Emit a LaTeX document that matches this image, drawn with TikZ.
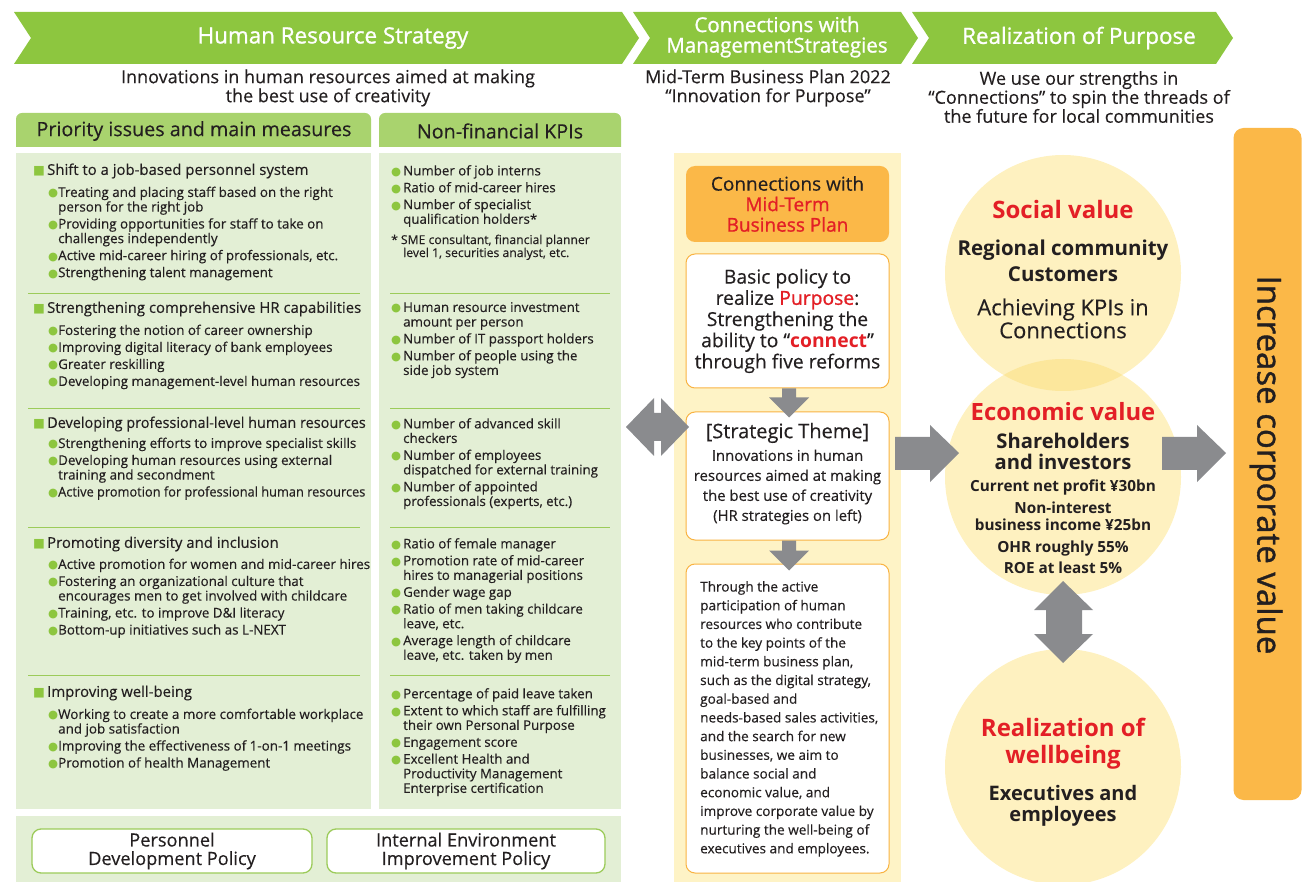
\documentclass[tikz,border=0pt]{standalone}
\usepackage{fontspec}
\setmainfont[UprightFeatures={FakeBold=0.3}]{Open Sans}
\newfontfamily\medfont[UprightFeatures={FakeBold=1.1}]{Open Sans}
\newfontfamily\symfont{DejaVu Sans}
\usetikzlibrary{calc}
\definecolor{bgreen}{HTML}{8DC63F}
\definecolor{tgreen}{HTML}{A9D36E}
\definecolor{pgreen}{HTML}{E3EFD5}
\definecolor{lgreen}{HTML}{9CCB5A}
\definecolor{ink}{HTML}{231F20}
\definecolor{agray}{HTML}{8A8B8E}
\definecolor{cbg}{HTML}{FEF3C6}
\definecolor{orng}{HTML}{FBB848}
\definecolor{oborder}{HTML}{F9B342}
\definecolor{rred}{HTML}{E31F26}
\definecolor{circ}{HTML}{FEF1C0}
\definecolor{circov}{HTML}{FCE79C}
\newcommand{\bul}{\makebox[10pt][l]{\smash{\textcolor{bgreen}{\symfont\fontsize{11.5}{11}\selectfont ●}}}}
\newcommand{\kbul}{\makebox[12pt][l]{\smash{\textcolor{bgreen}{\symfont\fontsize{11.5}{11}\selectfont ●}}}}
\newcommand{\sq}{\makebox[14pt][l]{\smash{\textcolor{bgreen}{\symfont\fontsize{12.5}{12}\selectfont ■}}}}
\newcommand{\cont}{\hspace*{10pt}}
\newcommand{\kcont}{\hspace*{12pt}}
\newcommand{\squeeze}[1]{\scalebox{0.955}[1]{#1}}
\tikzset{
  bannertext/.style={text=white, font=\medfont\fontsize{22.4}{22.4}\selectfont, align=center, inner sep=0},
  subtext/.style={text=ink, font=\fontsize{18}{19}\selectfont, align=center, inner sep=0},
  tabtext/.style={text=ink, font=\fontsize{19.7}{19.7}\selectfont, inner sep=0},
  lhead/.style={text=ink, font=\fontsize{14.9}{14.9}\selectfont, anchor=west, inner sep=0},
  litems/.style={text=ink, font=\fontsize{13.4}{14.6}\selectfont, anchor=north west, align=left, inner sep=0},
  kitems/.style={text=ink, font=\fontsize{13.3}{14.6}\selectfont, anchor=north west, align=left, inner sep=0},
  policy/.style={draw=lgreen, line width=1.3, fill=white, rounded corners=9, minimum height=44, text=ink, font=\fontsize{18.2}{18.5}\selectfont, align=center, inner sep=0},
  cbox/.style={draw=oborder, line width=1, fill=white, rounded corners=9, minimum width=203, text=ink, align=center, inner sep=0},
  ctext/.style={text=ink, align=center, inner sep=0},
  bubble/.style={circle, fill=circ, minimum size=236, inner sep=0},
  blockarrow/.style={fill=agray},
}
\begin{document}
\begin{tikzpicture}[x=1pt, y=-1pt]
\useasboundingbox (0,0) rectangle (1307,882);
% ---------- banners
\fill[bgreen] (14,12) -- (622,12) -- (639,38) -- (622,64) -- (14,64) -- (31,38) -- cycle;
\fill[bgreen] (633,12) -- (901,12) -- (918,38) -- (901,64) -- (633,64) -- (650,38) -- cycle;
\fill[bgreen] (912,12) -- (1216,12) -- (1233,38) -- (1216,64) -- (912,64) -- (929,38) -- cycle;
\node[bannertext] (b1) at (333,38) {Human Resource Strategy};
\node[bannertext, font=\medfont\fontsize{20.5}{20.5}\selectfont] (b2) at (777,37) {Connections with\\ManagementStrategies};
\node[bannertext] (b3) at (1079,38) {Realization of Purpose};
% ---------- subtitles
\node[subtext] (t1) at (328,88) {Innovations in human resources aimed at making\\the best use of creativity};
\node[subtext] (t2) at (768,88) {Mid-Term Business Plan 2022\\“Innovation for Purpose”};
\node[subtext] (t3) at (1079,97) {We use our strengths in\\“Connections” to spin the threads of\\the future for local communities};
% ---------- tabs
\fill[tgreen, rounded corners=6] (16,147) -- (16,113) -- (371,113) -- (371,147);
\fill[tgreen, rounded corners=6] (379,147) -- (379,113) -- (621,113) -- (621,147);
\node[tabtext] (tab1) at (194,131) {Priority issues and main measures};
\node[tabtext] (tab2) at (500,131) {Non-financial KPIs};
% ---------- panels
\fill[pgreen] (16,153) rectangle (371,809);
\fill[pgreen] (379,153) rectangle (621,809);
\fill[pgreen] (16,816) rectangle (621,882);
\foreach \yy in {293,408,527,675}{
  \draw[lgreen, line width=0.8] (28,\yy) -- (360,\yy);
  \draw[lgreen, line width=0.8] (390,\yy) -- (610,\yy);
}
% ---------- left column
\node[lhead] (h1) at (33,171) {\sq Shift to a job-based personnel system};
\node[litems] (i1) at (48,186.5) {\bul Treating and placing staff based on the right\\\cont person for the right job\\[2.4pt]
\bul Providing opportunities for staff to take on\\\cont challenges independently\\[2.4pt]
\bul Active mid-career hiring of professionals, etc.\\[2.4pt]
\bul Strengthening talent management};
\node[lhead] (h2) at (33,309) {\sq Strengthening comprehensive HR capabilities};
\node[litems] (i2) at (48,324.5) {\bul Fostering the notion of career ownership\\[2.4pt]
\bul Improving digital literacy of bank employees\\[2.4pt]
\bul Greater reskilling\\[2.4pt]
\bul Developing management-level human resources};
\node[lhead] (h3) at (33,424) {\sq \scalebox{0.97}[1]{Developing professional-level human resources}};
\node[litems] (i3) at (48,437.5) {\bul Strengthening efforts to improve specialist skills\\[2.4pt]
\bul Developing human resources using external\\\cont training and secondment\\[2.4pt]
\bul \squeeze{Active promotion for professional human resources}};
\node[lhead] (h4) at (33,544) {\sq Promoting diversity and inclusion};
\node[litems] (i4) at (48,558.5) {\bul Active promotion for women and mid-career hires\\[2.4pt]
\bul Fostering an organizational culture that\\\cont encourages men to get involved with childcare\\[2.4pt]
\bul Training, etc. to improve D\&I literacy\\[2.4pt]
\bul Bottom-up initiatives such as L-NEXT};
\node[lhead] (h5) at (33,693) {\sq Improving well-being};
\node[litems] (i5) at (48,708.5) {\bul Working to create a more comfortable workplace\\\cont and job satisfaction\\[2.4pt]
\bul Improving the effectiveness of 1-on-1 meetings\\[2.4pt]
\bul Promotion of health Management};
% ---------- KPI column
\node[kitems] (k1) at (391,165) {\kbul Number of job interns\\[2.3pt]
\kbul Ratio of mid-career hires\\[2.3pt]
\kbul Number of specialist\\\kcont qualification holders*};
\node[kitems, font=\fontsize{12.2}{13}\selectfont] (k1n) at (391,234.5) {*\hspace{3pt}SME consultant, financial planner\\\kcont level 1, securities analyst, etc.};
\node[kitems] (k2) at (391,302) {\kbul Human resource investment\\\kcont amount per person\\[2.3pt]
\kbul Number of IT passport holders\\[2.3pt]
\kbul Number of people using the\\\kcont side job system};
\node[kitems] (k3) at (391,418) {\kbul Number of advanced skill\\\kcont checkers\\[2.3pt]
\kbul Number of employees\\\kcont dispatched for external training\\[2.3pt]
\kbul Number of appointed\\\kcont professionals (experts, etc.)};
\node[kitems] (k4) at (391,538) {\kbul Ratio of female manager\\[2.3pt]
\kbul Promotion rate of mid-career\\\kcont hires to managerial positions\\[2.3pt]
\kbul Gender wage gap\\[2.3pt]
\kbul Ratio of men taking childcare\\\kcont leave, etc.\\[2.3pt]
\kbul Average length of childcare\\\kcont leave, etc. taken by men};
\node[kitems] (k5) at (391,688) {\kbul Percentage of paid leave taken\\[2.3pt]
\kbul Extent to which staff are fulfilling\\\kcont their own Personal Purpose\\[2.3pt]
\kbul Engagement score\\[2.3pt]
\kbul Excellent Health and\\\kcont Productivity Management\\\kcont Enterprise certification};
% ---------- policies
\node[policy, minimum width=280] (p1) at (172,851) {Personnel\\Development Policy};
\node[policy, minimum width=278] (p2) at (466,851) {Internal Environment\\Improvement Policy};
% ---------- centre column
\fill[cbg] (674,153) rectangle (901,882);
\node[fill=orng, rounded corners=9, minimum width=203, minimum height=76, inner sep=0, align=center, text=ink, font=\fontsize{19}{20.5}\selectfont] (c0) at (787.5,204)
  {Connections with\\\textcolor{rred}{\medfont Mid-Term}\\\textcolor{rred}{\medfont Business Plan}};
\node[cbox, minimum height=134, font=\fontsize{19.3}{21.2}\selectfont] (c1) at (787.5,321)
  {Basic policy to\\realize \textcolor{rred}{\medfont Purpose}:\\Strengthening the\\ability to “\textcolor{rred}{\bfseries connect}”\\through five reforms};
\node[cbox, minimum height=128] (c2) at (787.5,476) {};
\node[ctext, font=\fontsize{20}{20}\selectfont] (c2a) at (787.5,433) {[Strategic Theme]};
\node[ctext, font=\fontsize{14.9}{20}\selectfont] (c2b) at (787.5,487) {Innovations in human\\resources aimed at making\\the best use of creativity\\(HR strategies on left)};
\node[cbox, minimum height=309] (c3) at (787.5,718.5) {};
\node[text=ink, font=\fontsize{13.6}{18.7}\selectfont, align=left, anchor=north west, inner sep=0] (c3t) at (700,581)
  {Through the active\\participation of human\\resources who contribute\\to the key points of the\\mid-term business plan,\\such as the digital strategy,\\goal-based and\\needs-based sales activities,\\and the search for new\\businesses, we aim to\\balance social and\\economic value, and\\improve corporate value by\\nurturing the well-being of\\executives and employees.};
% down arrows
\path (c1.south) ++(1.5,0) coordinate (a1);
\fill[blockarrow] (a1) ++(-7,0) -- ++(14,0) -- ++(0,9) -- ++(13,0) -- ++(-20,20) -- ++(-20,-20) -- ++(13,0) -- cycle;
\path (c2.south) ++(1.5,0) coordinate (a2);
\fill[blockarrow] (a2) ++(-7,0) -- ++(14,0) -- ++(0,10) -- ++(13,0) -- ++(-20,20) -- ++(-20,-20) -- ++(13,0) -- cycle;
% horizontal double arrow
\coordinate (dl) at (626,427);
\coordinate (dr) at (689,427);
\fill[blockarrow] (dl) -- ++(28,-29) -- ++(0,15) -- ++(7,0) -- ++(0,-15) -- (dr) -- ++(-28,29) -- ++(0,-15) -- ++(-7,0) -- ++(0,15) -- cycle;
% ---------- circles
\node[bubble] (sv) at (1063,273) {};
\node[bubble] (ev) at (1063,477) {};
\node[bubble] (wv) at (1063,767) {};
\begin{scope}
  \clip (1063,273) circle (118);
  \fill[circov] (1063,477) circle (118);
\end{scope}
\node[ctext, text=rred, font=\fontsize{24}{24}\selectfont\bfseries] (sv1) at (1063,210) {Social value};
\node[ctext, font=\fontsize{20.5}{26}\selectfont\bfseries] (sv2) at (1063,261) {Regional community\\Customers};
\node[ctext, font=\fontsize{22}{23}\selectfont] (sv3) at (1063,318.5) {Achieving KPIs in\\Connections};
\node[ctext, text=rred, font=\fontsize{23.8}{23.8}\selectfont\bfseries] (ev1) at (1063,412) {Economic value};
\node[ctext, font=\fontsize{20.2}{21}\selectfont\bfseries] (ev2) at (1063,451.5) {Shareholders\\and investors};
\node[ctext, font=\fontsize{15.3}{15.3}\selectfont\bfseries] (ev3) at (1063,487) {Current net profit ¥30bn};
\node[ctext, font=\fontsize{15.3}{17}\selectfont\bfseries] (ev4) at (1063,516.5) {Non-interest\\business income ¥25bn};
\node[ctext, font=\fontsize{15.3}{21}\selectfont\bfseries] (ev5) at (1063,557.5) {OHR roughly 55\%\\ROE at least 5\%};
\node[ctext, text=rred, font=\fontsize{24}{27}\selectfont\bfseries] (wv1) at (1063,743.5) {Realization of\\wellbeing};
\node[ctext, font=\fontsize{20}{21}\selectfont\bfseries] (wv2) at (1063,805.5) {Executives and\\employees};
% vertical double arrow
\coordinate (vt) at (1063,581);
\coordinate (vb) at (1063,663);
\fill[blockarrow] (vt) -- ++(30,29) -- ++(-11,0) -- ++(0,24) -- ++(11,0) -- (vb) -- ++(-29,-29) -- ++(12,0) -- ++(0,-24) -- ++(-12,0) -- cycle;
% right arrows
\coordinate (r1s) at (895,453);
\coordinate (r1e) at (959,453);
\fill[blockarrow] (r1s) ++(0,-16) -- ++(35,0) -- ++(0,-12) -- (r1e) -- ++(-29,29) -- ++(0,-12) -- ++(-35,0) -- cycle;
% bar
\node[fill=orng, rounded corners=10, minimum width=68, minimum height=672, inner sep=0] (bar) at (1267.5,464) {};
\node[ctext, rotate=-90, font=\medfont\fontsize{33}{33}\selectfont] (bart) at (1266,465) {Increase corporate value};
\coordinate (r2s) at (1162,453);
\coordinate (r2e) at (1226,453);
\fill[blockarrow] (r2s) ++(0,-16) -- ++(35,0) -- ++(0,-12) -- (r2e) -- ++(-29,29) -- ++(0,-12) -- ++(-35,0) -- cycle;
\end{tikzpicture}
\end{document}
